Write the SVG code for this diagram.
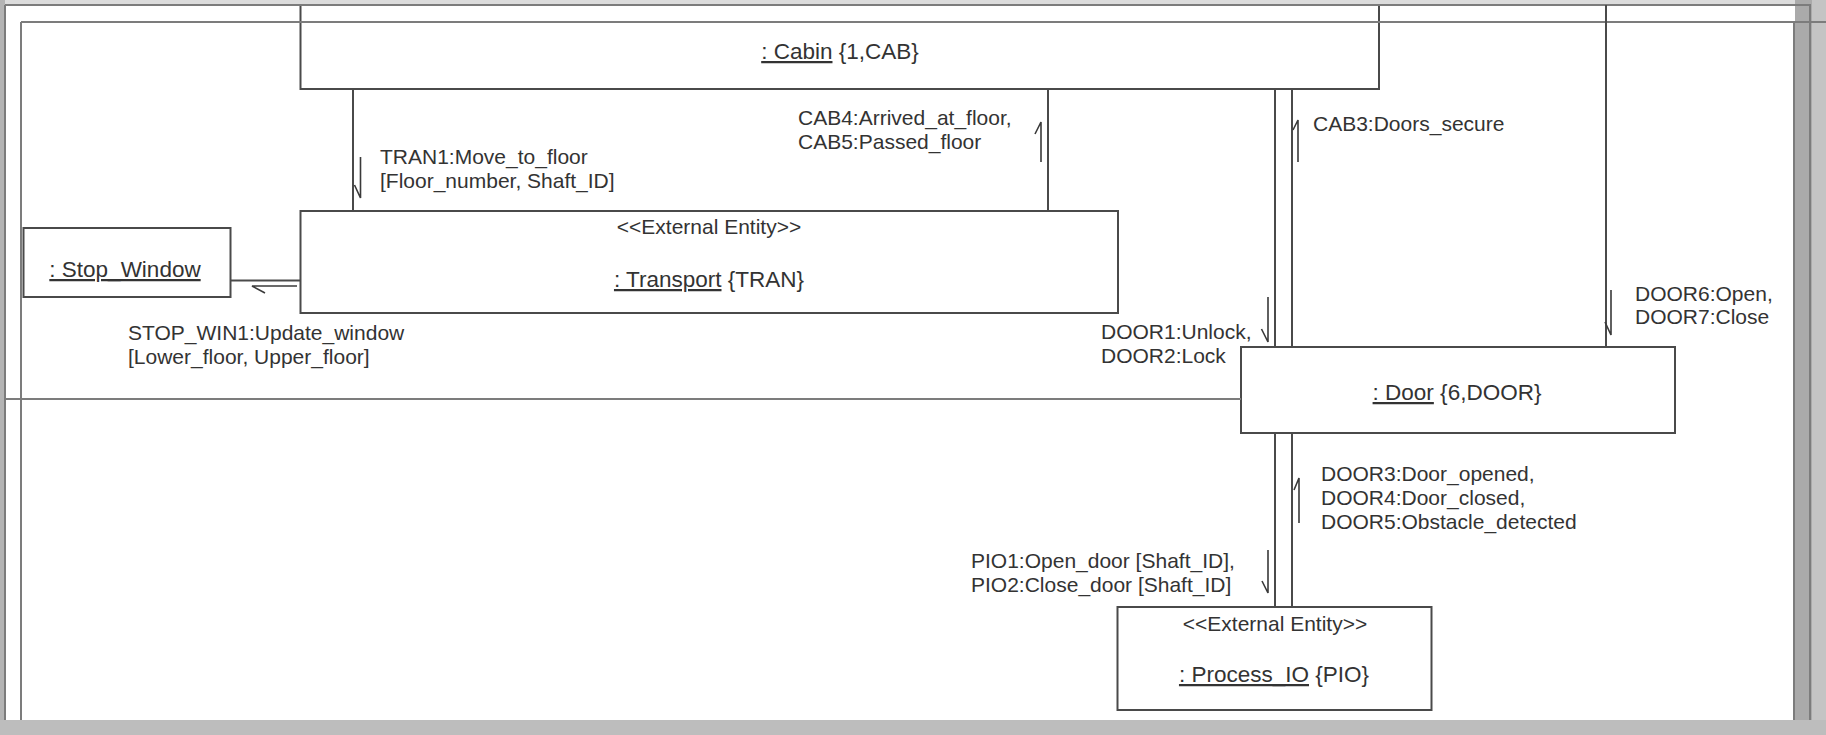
<svg xmlns="http://www.w3.org/2000/svg" width="1826" height="735" viewBox="0 0 1826 735">
<style>
.box{fill:#fff;stroke:#4a4a4a;stroke-width:2}
.frame{fill:none;stroke:#7c7c7c;stroke-width:2}
.conn{fill:none;stroke:#4a4a4a;stroke-width:2}
.arr{fill:none;stroke:#3a3a3a;stroke-width:1.6}
text{font-family:"Liberation Sans",Arial,sans-serif;fill:#333}
.msg{font-size:21px}
.name{font-size:22.5px;text-anchor:middle}
.st{font-size:21px;text-anchor:middle}
.u{text-decoration:underline}
</style>
<rect x="0" y="0" width="1826" height="735" fill="#fff"/>
<!-- window chrome -->
<rect x="0" y="0" width="1826" height="5" fill="#dcdcdc"/>
<rect x="0" y="0" width="5" height="735" fill="#b4b4b4"/>
<rect x="1795" y="0" width="31" height="735" fill="#aaaaaa"/>
<rect x="1812" y="0" width="14" height="735" fill="#c4c4c4"/>
<rect x="0" y="720" width="1826" height="15" fill="#bdbdbd"/>

<g id="cabin">
<rect class="box" x="300.5" y="5" width="1078.5" height="84"/>
<text class="name" x="840" y="59"><tspan class="u">: Cabin</tspan> {1,CAB}</text>
</g>
<g id="transport">
<rect class="box" x="300.5" y="211" width="817.5" height="102"/>
<text class="st" x="709" y="234">&lt;&lt;External Entity&gt;&gt;</text>
<text class="name" x="709" y="287"><tspan class="u">: Transport</tspan> {TRAN}</text>
</g>
<g id="stop_window">
<rect class="box" x="23.5" y="228" width="207" height="69"/>
<text class="name" x="125" y="277"><tspan class="u">: Stop_Window</tspan></text>
</g>
<g id="door">
<rect class="box" x="1241" y="347" width="434" height="86"/>
<text class="name" x="1457" y="400"><tspan class="u">: Door</tspan> {6,DOOR}</text>
</g>
<g id="process_io">
<rect class="box" x="1117.5" y="607" width="314" height="103"/>
<text class="st" x="1275" y="631">&lt;&lt;External Entity&gt;&gt;</text>
<text class="name" x="1274" y="682"><tspan class="u">: Process_IO</tspan> {PIO}</text>
</g>

<!-- frames -->
<g id="frame">
<path class="frame" d="M5,5 H1811 M5,5 V720 M1810,5 V720"/>
<path class="frame" d="M21,22 H1826 M21,22 V720 M1794,22 V720"/>
<path class="frame" d="M5,399 H1241"/>
</g>

<g id="connectors">
<path class="conn" d="M353,89 V211"/>
<path class="conn" d="M1048,89 V211"/>
<path class="conn" d="M230.5,280.5 H300.5"/>
<path class="conn" d="M1275,89 V347"/>
<path class="conn" d="M1292,89 V347"/>
<path class="conn" d="M1606,5 V347"/>
<path class="conn" d="M1275,433 V607"/>
<path class="conn" d="M1292,433 V607"/>
<!-- message arrows -->
<path class="arr" d="M360.5,157 V198 L354.5,185"/>
<path class="arr" d="M1041,162 V122 L1035,134"/>
<path class="arr" d="M1298,162 V120 L1293,130"/>
<path class="arr" d="M1268,297 V342 L1261.5,329"/>
<path class="arr" d="M1611,290 V335 L1605,322"/>
<path class="arr" d="M1299,523 V478 L1294,490"/>
<path class="arr" d="M1268,550 V593 L1262,581"/>
<path class="arr" d="M297,286 H252 L265,293"/>
</g>

<g id="labels">
<text class="msg" x="380" y="164">TRAN1:Move_to_floor</text>
<text class="msg" x="380" y="188">[Floor_number, Shaft_ID]</text>
<text class="msg" x="798" y="125">CAB4:Arrived_at_floor,</text>
<text class="msg" x="798" y="149">CAB5:Passed_floor</text>
<text class="msg" x="1313" y="131">CAB3:Doors_secure</text>
<text class="msg" x="128" y="340">STOP_WIN1:Update_window</text>
<text class="msg" x="128" y="364">[Lower_floor, Upper_floor]</text>
<text class="msg" x="1101" y="339">DOOR1:Unlock,</text>
<text class="msg" x="1101" y="363">DOOR2:Lock</text>
<text class="msg" x="1635" y="301">DOOR6:Open,</text>
<text class="msg" x="1635" y="324">DOOR7:Close</text>
<text class="msg" x="1321" y="481">DOOR3:Door_opened,</text>
<text class="msg" x="1321" y="505">DOOR4:Door_closed,</text>
<text class="msg" x="1321" y="529">DOOR5:Obstacle_detected</text>
<text class="msg" x="971" y="568">PIO1:Open_door [Shaft_ID],</text>
<text class="msg" x="971" y="592">PIO2:Close_door [Shaft_ID]</text>
</g>
</svg>
